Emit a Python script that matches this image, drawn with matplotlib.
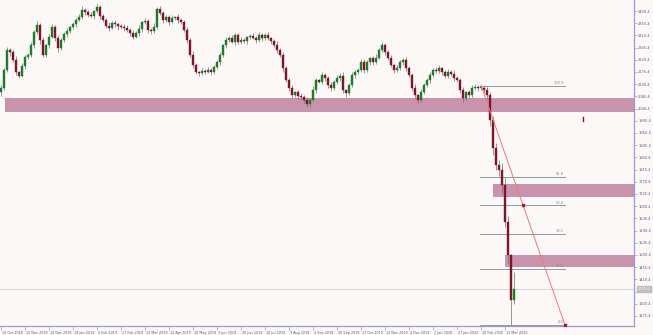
import matplotlib
matplotlib.use("Agg")
import matplotlib.pyplot as plt
import matplotlib.transforms as mtransforms
import numpy as np

# ---------------- data ----------------
closes = [
    2116, 2183, 2257, 2249, 2220, 2175, 2161, 2198, 2231, 2238,
    2275, 2323, 2349, 2293, 2238, 2275, 2305, 2341, 2301, 2264,
    2293, 2316, 2327, 2341, 2352, 2367, 2378, 2404, 2397, 2386,
    2382, 2400, 2415, 2382, 2367, 2345, 2338, 2356, 2352, 2345,
    2341, 2338, 2330, 2319, 2305, 2319, 2334, 2360, 2364, 2330,
    2327, 2341, 2408, 2393, 2367, 2378, 2360, 2375, 2378, 2367,
    2360, 2330, 2293, 2238, 2201, 2175, 2172, 2179, 2175, 2183,
    2175, 2194, 2212, 2238, 2275, 2293, 2301, 2286, 2312, 2286,
    2293, 2290, 2305, 2308, 2301, 2293, 2312, 2301, 2312, 2301,
    2290, 2275, 2257, 2238, 2190, 2146, 2116, 2091, 2102, 2087,
    2083, 2072, 2057, 2072, 2109, 2146, 2139, 2164, 2153, 2127,
    2116, 2139, 2153, 2161, 2109, 2098, 2127, 2164, 2175, 2183,
    2212, 2183, 2212, 2227, 2212, 2227, 2257, 2275, 2249, 2227,
    2201, 2183, 2190, 2212, 2220, 2190, 2164, 2116, 2091, 2072,
    2102, 2127, 2146, 2164, 2183, 2179, 2190, 2175, 2161, 2175,
    2168, 2153, 2146, 2109, 2080, 2102, 2091, 2116, 2120, 2116,
    2118, 2109, 2091, 1998, 1895, 1833, 1814, 1758, 1622, 1500,
    1334, 1375,
]
first_open = 2100

wick_up = [
    10, 8, 12, 6, 9, 14, 5, 11, 7, 9,
    12, 6, 15, 8, 10, 5, 9, 13, 7, 11,
    6, 8, 12, 5, 9, 7, 10, 14, 6, 8,
    11, 5, 12, 7, 9, 6, 13, 8, 10, 5,
    7, 11, 9, 6, 12, 8, 14, 5, 10, 7,
    9, 16, 8, 11, 6, 9, 7, 12, 5, 10,
    8, 6, 11, 9, 14, 7, 5, 10, 8, 12,
    6, 9, 7, 13, 5, 11, 8, 10, 6, 9,
    12, 7, 5, 8, 11, 6, 10, 9, 7, 12,
    5, 8, 14, 6, 10, 7, 9, 11, 5, 8,
    12, 6, 10, 7, 13, 9, 5, 11, 8, 6,
    12, 7, 10, 9, 14, 5, 8, 11, 7, 6,
    10, 12, 9, 5, 8, 13, 7, 11, 6, 9,
    10, 5, 12, 8, 7, 11, 6, 9, 14, 5,
    10, 8, 7, 12, 6, 9, 11, 5, 8, 10,
    7, 13, 6, 9, 12, 5, 8, 11, 10, 7,
    6, 9, 12, 10, 15, 20, 18, 25, 30, 22,
    5, 63,
]
wick_dn = [
    12, 7, 9, 14, 6, 10, 8, 5, 11, 9,
    7, 10, 6, 13, 9, 8, 12, 5, 10, 14,
    8, 6, 11, 9, 7, 12, 5, 8, 10, 6,
    9, 12, 7, 10, 6, 8, 11, 5, 9, 13,
    6, 10, 8, 12, 7, 5, 9, 11, 6, 10,
    12, 8, 6, 9, 11, 7, 10, 5, 8, 12,
    9, 7, 11, 8, 10, 6, 13, 9, 7, 5,
    11, 8, 6, 10, 9, 12, 7, 5, 10, 8,
    6, 9, 11, 7, 5, 10, 8, 12, 6, 9,
    10, 7, 12, 9, 15, 8, 11, 12, 9, 10,
    8, 10, 11, 9, 7, 12, 6, 8, 10, 9,
    12, 7, 9, 10, 11, 14, 6, 8, 9, 7,
    8, 11, 6, 9, 10, 7, 5, 8, 12, 9,
    7, 10, 8, 6, 9, 11, 8, 12, 10, 12,
    9, 6, 8, 10, 7, 9, 6, 11, 8, 7,
    9, 10, 8, 12, 14, 9, 11, 7, 8, 9,
    8, 10, 15, 20, 25, 18, 22, 28, 20, 30,
    92, 15,
]

date_labels = ["29 Oct 2018", "22 Nov 2018", "14 Dec 2018", "14 Jan 2019",
               "5 Feb 2019", "27 Feb 2019", "21 Mar 2019", "12 Apr 2019",
               "10 May 2019", "3 Jun 2019", "26 Jun 2019", "18 Jul 2019",
               "9 Aug 2019", "3 Sep 2019", "25 Sep 2019", "17 Oct 2019",
               "12 Nov 2019", "4 Dec 2019", "2 Jan 2020", "27 Jan 2020",
               "18 Feb 2020", "11 Mar 2020"]
bars_per_label = 8

price_ticks = [1275.4, 1320.4, 1365.4, 1410.4, 1455.4, 1500.4, 1545.4, 1590.4,
               1635.4, 1680.4, 1725.4, 1770.4, 1815.4, 1860.4, 1905.4, 1950.4,
               1995.4, 2040.4, 2085.4, 2130.4, 2175.4, 2220.4, 2265.4, 2310.4,
               2355.4, 2400.4]

# zones (start bar, top price, bottom price)
zone_start = [1.3, 164, 168]
zone_top = [2079.5, 1762.2, 1500.3]
zone_bot = [2027.8, 1714.3, 1456.1]

fib_high = 2124.0
fib_low = 1242.0
fib_ratios = [1.0, 0.618, 0.5, 0.382, 0.236, 0.0]
fib_names = ["100.0", "61.8", "50.0", "38.2", "23.6", "0.0"]
fib_start, fib_end = 159.7, 188.0

trend_x = [160.0, 188.0]
trend_y = [2127.0, 1242.0]

last_price = 1375.0

# ---------------- plot ----------------
W, H = 653, 335
fig = plt.figure(figsize=(W / 100, H / 100), dpi=100)
bg = '#fdf8f8'
fig.patch.set_facecolor(bg)
ax = fig.add_axes([0, 9 / H, 634 / W, 326 / H])
ax.set_facecolor(bg)

n = len(closes)
opens = [first_open] + closes[:-1]
x = np.arange(n)
highs = [max(o, c) + u for o, c, u in zip(opens, closes, wick_up)]
lows = [min(o, c) - d for o, c, d in zip(opens, closes, wick_dn)]

ax.set_xlim(-1 / 3, 633 / 3)
ax.set_ylim(1238.4, 2441.0)

# zones
xmax = 633 / 3
for s, t, b in zip(zone_start, zone_top, zone_bot):
    ax.add_patch(plt.Rectangle((s, b), xmax - s, t - b, facecolor='#c993ad',
                               edgecolor='none', zorder=1))

# current price line
ax.axhline(last_price, color='#cfcfcf', lw=0.6, zorder=1.5)

# candles
bull = '#1f7a2a'
bear = '#7d1626'
ax.vlines(x, lows, highs, color='#707070', lw=0.5, zorder=2)
bw = 0.62
for xi, o, c in zip(x, opens, closes):
    col = bull if c >= o else bear
    bot = min(o, c)
    h = max(abs(c - o), 2.5)
    ax.add_patch(plt.Rectangle((xi - bw / 2, bot), bw, h, facecolor=col,
                               edgecolor=col, lw=0.3, zorder=3))

# fibonacci levels
for r, name in zip(fib_ratios, fib_names):
    lv = fib_low + r * (fib_high - fib_low)
    ax.plot([fib_start, fib_end], [lv, lv], color='#8e9c9c', lw=0.7, zorder=2.5)
    ax.text(fib_end - 0.3, lv + 3, name, fontsize=2.6, color='#7f8c8c',
            ha='right', va='bottom', zorder=4)

# trend line
ax.plot(trend_x, trend_y, color='#f07a7a', lw=0.7, zorder=4)
mx, my = (trend_x[0] + trend_x[1]) / 2, (trend_y[0] + trend_y[1]) / 2
ax.plot([mx, trend_x[1]], [my, trend_y[1]], ls='none', marker='s',
        ms=1.6, color='#b01030', zorder=5)

# small stray mark
ax.plot([194, 194], [1995, 2009], color='#7d1626', lw=1.0, zorder=4)

# axes styling
axis_col = '#9b9bd3'
for sp in ['top', 'left']:
    ax.spines[sp].set_visible(False)
for sp in ['right', 'bottom']:
    ax.spines[sp].set_color(axis_col)
    ax.spines[sp].set_linewidth(0.9)

ax.yaxis.tick_right()
ylabels = [f"{v:.1f}" if abs(v - 1365.4) > 1 else "" for v in price_ticks]
ax.set_yticks(price_ticks)
ax.set_yticklabels(ylabels)
ax.tick_params(axis='y', direction='out', length=2, width=0.5, color=axis_col,
               labelsize=2.6, labelcolor='#5a5a8c', pad=1)

xt = [i * bars_per_label for i in range(len(date_labels))]
ax.set_xticks(xt)
ax.set_xticklabels(date_labels, ha='left')
ax.tick_params(axis='x', direction='out', length=3, width=0.5, color=axis_col,
               labelsize=2.4, labelcolor='#5a5a8c', pad=0.5)
for lbl in ax.get_xticklabels():
    lbl.set_transform(lbl.get_transform() +
                      mtransforms.ScaledTranslation(1 / 100, 0, fig.dpi_scale_trans))

# price box
trans = mtransforms.blended_transform_factory(ax.transAxes, ax.transData)
ax.text(1.006, last_price, f"{last_price:.1f}", transform=trans, fontsize=2.6,
        color='white', va='center', ha='left', clip_on=False, zorder=10,
        bbox=dict(boxstyle='square,pad=0.25', facecolor='#bdbdbd',
                  edgecolor='#bdbdbd'))

fig.savefig('out.png', dpi=100, facecolor=bg)
